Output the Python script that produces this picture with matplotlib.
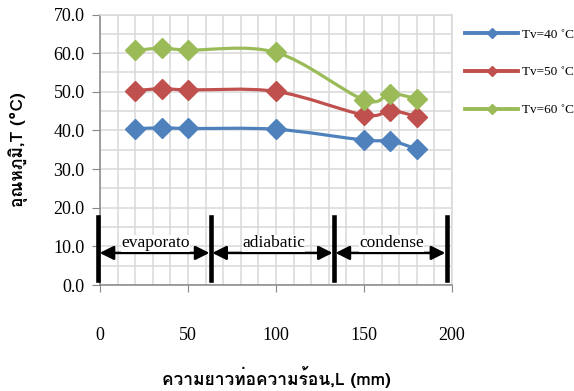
import matplotlib
matplotlib.use('Agg')
import matplotlib.pyplot as plt
from matplotlib import font_manager
from matplotlib.ft2font import FT2Font
from matplotlib.path import Path
from matplotlib.patches import PathPatch
from matplotlib.lines import Line2D
import numpy as np

# data
length_mm = [20, 35, 50, 100, 150, 165, 180]
temp_tv40 = [40.4, 40.7, 40.5, 40.3, 37.5, 37.3, 35.2]
temp_tv50 = [50.3, 50.8, 50.5, 50.1, 44.0, 45.1, 43.6]
temp_tv60 = [60.7, 61.3, 60.8, 60.2, 47.9, 49.5, 48.2]
series_names = ['Tv=40 ˚C', 'Tv=50 ˚C', 'Tv=60 ˚C']
colors = ['#4F81BD', '#C0504D', '#9BBB59']

zone_edges = [-1, 63, 133, 197]
zone_names = ['evaporato', 'adiabatic', 'condense']


def font_with(ch):
    for f in font_manager.fontManager.ttflist:
        try:
            if FT2Font(f.fname).get_char_index(ord(ch)):
                return f.name
        except Exception:
            pass
    return 'DejaVu Sans'


thai = font_with('ก')
serif = 'Liberation Serif'


def smooth_path(x, y):
    # excel-like smoothed line: cubic bezier segments through the points
    pts = np.column_stack([x, y]).astype(float)
    n = len(pts)
    verts = [pts[0]]
    codes = [Path.MOVETO]
    for i in range(n - 1):
        p0 = pts[i - 1] if i > 0 else pts[i]
        p1 = pts[i]
        p2 = pts[i + 1]
        p3 = pts[i + 2] if i + 2 < n else pts[i + 1]
        c1 = p1 + (p2 - p0) / 6.0
        c2 = p2 - (p3 - p1) / 6.0
        verts += [c1, c2, p2]
        codes += [Path.CURVE4] * 3
    return Path(verts, codes)


fig = plt.figure(figsize=(5.74, 3.91), dpi=100)
ax = fig.add_axes([100 / 574, 106 / 391, 352 / 574, 270.5 / 391])

ax.set_xlim(0, 200)
ax.set_ylim(0, 70)
ax.set_xticks([0, 50, 100, 150, 200])
ax.set_yticks(np.arange(0, 71, 10))
ax.set_xticks(np.arange(0, 201, 10), minor=True)
ax.set_yticks(np.arange(0, 71, 5), minor=True)
ax.grid(which='both', color='#D9D9D9', linewidth=1.1)
ax.set_axisbelow(True)
ax.yaxis.set_major_formatter(matplotlib.ticker.FormatStrFormatter('%.1f'))

for s in ['top', 'right']:
    ax.spines[s].set_color('#D9D9D9')
    ax.spines[s].set_linewidth(1.1)
for s in ['left', 'bottom']:
    ax.spines[s].set_color('#868686')
    ax.spines[s].set_linewidth(1.1)

ax.tick_params(which='minor', length=0)
ax.tick_params(axis='y', which='major', length=6, color='#868686', pad=5)
ax.tick_params(axis='x', which='major', length=5, color='#868686', pad=25)
for lab in ax.get_xticklabels() + ax.get_yticklabels():
    lab.set_fontfamily(serif)
    lab.set_fontsize(13)

handles = []
for ys, c, name in zip([temp_tv40, temp_tv50, temp_tv60], colors, series_names):
    ax.add_patch(PathPatch(smooth_path(length_mm, ys), fill=False, edgecolor=c,
                           linewidth=2.3, zorder=3))
    ax.plot(length_mm, ys, linestyle='none', marker='D', markersize=10.5,
            color=c, zorder=4)
    handles.append(Line2D([], [], color=c, linewidth=2.8, marker='D', markersize=5))

# zone markers
for xe in zone_edges:
    ax.plot([xe, xe], [1.3, 17.6], color='black', linewidth=3.3, clip_on=False, zorder=5)
for i, name in enumerate(zone_names):
    a, b = zone_edges[i], zone_edges[i + 1]
    ax.annotate('', xy=(b - 0.8, 8.3), xytext=(a + 0.8, 8.3),
                arrowprops=dict(arrowstyle='<|-|>', color='black', lw=1.8,
                                mutation_scale=21, shrinkA=0, shrinkB=0), zorder=5)
    ax.text((a + b) / 2 + 0.5, 8.7, name, ha='center', va='bottom',
            fontfamily=serif, fontsize=12.5, zorder=5,
            bbox=dict(facecolor='white', edgecolor='none', pad=0.3))

leg = fig.legend(handles, series_names, loc='upper left',
                 bbox_to_anchor=(460 / 574, 1 - 23 / 391), frameon=False,
                 prop={'family': serif, 'size': 9.5}, labelspacing=1.95,
                 handlelength=4.0, handletextpad=0.3, borderaxespad=0)

fig.text(276 / 574, 1 - 377 / 391, 'ความยาวท่อความร้อน,L (mm)', ha='center', va='center',
         fontsize=12.5, fontweight='bold', family=[thai, serif])
fig.text(18 / 574, 1 - 150 / 391, 'อุณหภูมิ,T (ºC)', ha='center', va='center',
         rotation=90, fontsize=12.5, fontweight='bold', family=[thai, serif])

fig.savefig('out.png', dpi=100)
